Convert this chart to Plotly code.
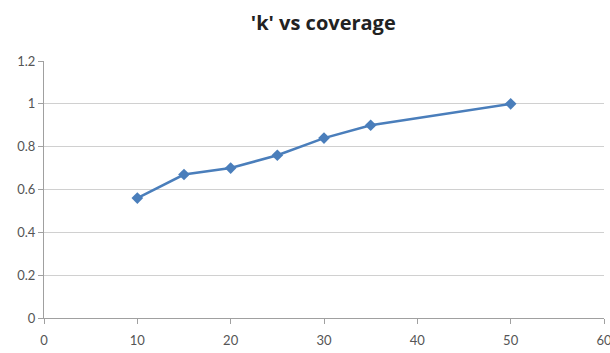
import plotly.graph_objects as go

# Coverage values and the corresponding 'k'
coverage = [10, 15, 20, 25, 30, 35, 50]
k_values = [0.56, 0.67, 0.70, 0.76, 0.84, 0.90, 1.00]

x_ticks = [0, 10, 20, 30, 40, 50, 60]
y_ticks = [0, 0.2, 0.4, 0.6, 0.8, 1.0, 1.2]
y_tick_text = ["0", "0.2", "0.4", "0.6", "0.8", "1", "1.2"]

fig = go.Figure()
fig.add_trace(go.Scatter(
    x=coverage, y=k_values, mode="lines+markers",
    line=dict(color="#4a7ebb", width=2.5),
    marker=dict(symbol="diamond", size=9, color="#4a7ebb"),
    showlegend=False,
))

fig.update_layout(
    width=610, height=353,
    margin=dict(l=44, r=6, t=61, b=35),
    paper_bgcolor="white", plot_bgcolor="white",
    title=dict(text="'k' vs coverage", x=0.53, xanchor="center", y=0.935, yanchor="middle",
               font=dict(family="Open Sans", size=20, color="#222222", weight="bold")),
    font=dict(family="Lato", size=13, color="#555555"),
    xaxis=dict(range=[0, 60], tickvals=x_ticks, showgrid=False, zeroline=False,
               showline=True, linecolor="#a0a0a0", linewidth=1,
               ticks="outside", ticklen=5, tickcolor="#a0a0a0", automargin=False,
               ticklabeloverflow="allow", ticklabelstandoff=5),
    yaxis=dict(range=[0, 1.2], tickvals=y_ticks, ticktext=y_tick_text, showgrid=True,
               gridcolor="#d0d0d0", gridwidth=1, zeroline=False, automargin=False,
               showline=True, linecolor="#a0a0a0", linewidth=1,
               ticks="outside", ticklen=5, tickcolor="#a0a0a0"),
)

fig.write_html("out.html")
